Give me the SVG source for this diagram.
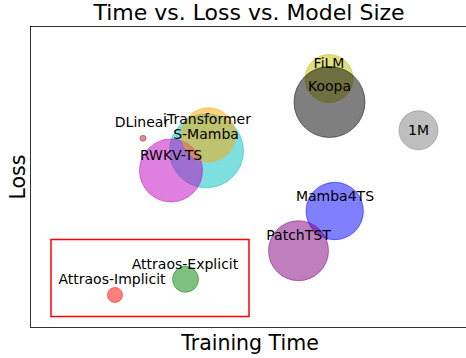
<svg xmlns="http://www.w3.org/2000/svg" width="466" height="358" viewBox="0 0 466 358">
<style>
text{font-family:"DejaVu Sans","Liberation Sans",sans-serif;fill:#000}
.lbl{font-size:14px;text-anchor:middle}
.pt{fill-opacity:0.5;stroke-opacity:0.5;stroke-width:1}
</style>
<rect width="466" height="358" fill="#fff"/>
<text x="249" y="20" font-size="22" text-anchor="middle">Time vs. Loss vs. Model Size</text>
<text x="250" y="350" font-size="20.5" text-anchor="middle">Training Time</text>
<text transform="translate(24.5,177) rotate(-90)" font-size="20.5" text-anchor="middle">Loss</text>
<rect x="30.5" y="26.5" width="439" height="301" fill="none" stroke="#000" stroke-width="0.8"/>
<g id="points">
<g id="DLinear"><circle class="pt" cx="143" cy="138.3" r="3" fill="#a52a2a" stroke="#a52a2a"/></g>
<g id="S-Mamba"><circle class="pt" cx="206.5" cy="150.8" r="37" fill="#00bfbf" stroke="#00bfbf"/></g>
<g id="RWKV-TS"><circle class="pt" cx="171" cy="170.5" r="31.5" fill="#bf00bf" stroke="#bf00bf"/></g>
<g id="iTransformer"><circle class="pt" cx="208.5" cy="134.8" r="27" fill="#ffa500" stroke="#ffa500"/></g>
<g id="FiLM"><circle class="pt" cx="329" cy="78.5" r="24" fill="#bfbf00" stroke="#bfbf00"/></g>
<g id="Koopa"><circle class="pt" cx="329.5" cy="102" r="35.5" fill="#000" stroke="#000"/></g>
<g id="1M"><circle class="pt" cx="418.5" cy="130.3" r="19.5" fill="#808080" stroke="#808080"/></g>
<g id="Mamba4TS"><circle class="pt" cx="334.7" cy="211" r="28.7" fill="#0000ff" stroke="#0000ff"/></g>
<g id="PatchTST"><circle class="pt" cx="298.5" cy="250.7" r="30" fill="#800080" stroke="#800080"/></g>
<g id="Attraos-Explicit"><circle class="pt" cx="185.5" cy="279.3" r="13" fill="#008000" stroke="#008000"/></g>
<g id="Attraos-Implicit"><circle class="pt" cx="115" cy="295" r="7.5" fill="#ff0000" stroke="#ff0000"/></g>
</g>
<g id="labels">
<text class="lbl" x="142" y="127">DLinear</text>
<text class="lbl" x="207" y="123.5">iTransformer</text>
<text class="lbl" x="206" y="139">S-Mamba</text>
<text class="lbl" x="171" y="159.5">RWKV-TS</text>
<text class="lbl" x="329" y="67.5">FiLM</text>
<text class="lbl" x="329.5" y="91">Koopa</text>
<text class="lbl" x="418.5" y="135">1M</text>
<text class="lbl" x="335" y="200.5">Mamba4TS</text>
<text class="lbl" x="298.5" y="239.5">PatchTST</text>
<text class="lbl" x="185" y="268.5">Attraos-Explicit</text>
<text class="lbl" x="112" y="283.5">Attraos-Implicit</text>
</g>
<g id="highlight"><rect x="51" y="239.5" width="198" height="77" fill="none" stroke="#ff0000" stroke-width="1.5"/></g>
</svg>
